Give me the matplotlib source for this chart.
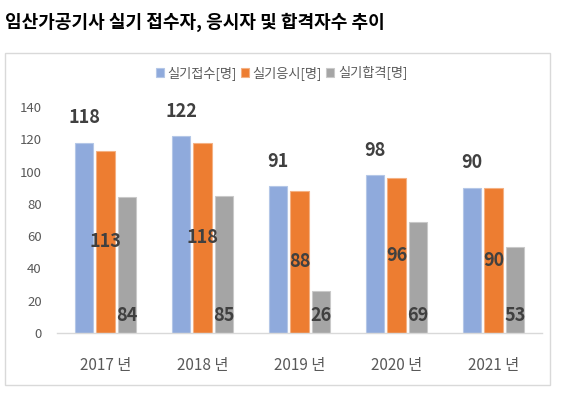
import numpy as np
import matplotlib
matplotlib.use("Agg")
import matplotlib.pyplot as plt
import matplotlib.patches as patches

plt.rcParams['font.family'] = ['Noto Sans CJK KR', 'DejaVu Sans']

# data
years = ['2017 년', '2018 년', '2019 년', '2020 년', '2021 년']
series_names = ['실기접수[명]', '실기응시[명]', '실기합격[명]']
applied = [118, 122, 91, 98, 90]
took = [113, 118, 88, 96, 90]
passed = [84, 85, 26, 69, 53]

colors = ['#8FAADC', '#ED7D31', '#A5A5A5']
edges = ['#B4C7E7', '#F4B183', '#C9C9C9']
label_color = '#404040'
text_gray = '#595959'

W, H = 563, 399
fig = plt.figure(figsize=(W / 100, H / 100), dpi=100)

# outer chart box
fig.patches.append(patches.Rectangle((5 / W, 1 - 385 / H), 545 / W, 332 / H,
                                     transform=fig.transFigure, fill=False,
                                     edgecolor='#D9D9D9', linewidth=1.0))

fig.text(5 / W, 1 - 22 / H, '임산가공기사 실기 접수자, 응시자 및 합격자수 추이',
         fontsize=13, fontweight='bold', ha='left', va='center', color='black')

ax = fig.add_axes([57 / W, 1 - 333 / H, 485 / W, 226 / H])
ax.set_xlim(-0.5, len(years) - 0.5)
ax.set_ylim(0, 140)

x = np.arange(len(years))
bw = 0.186
off = 0.22
for i, vals in enumerate([applied, took, passed]):
    ax.bar(x + (i - 1) * off, vals, width=bw, color=colors[i],
           edgecolor=edges[i], linewidth=0.8, label=series_names[i], zorder=2)

# data labels: outside end / center / inside base
for xi, v in zip(x, applied):
    ax.annotate(str(v), (xi - off, v), xytext=(0, 11), textcoords='offset points',
                ha='center', va='bottom', fontsize=13, fontweight='bold',
                color=label_color, annotation_clip=False)
for xi, v in zip(x, took):
    ax.text(xi, v / 2, str(v), ha='center', va='center', fontsize=13,
            fontweight='bold', color=label_color)
for xi, v in zip(x, passed):
    ax.annotate(str(v), (xi + off, 0), xytext=(0, 6), textcoords='offset points',
                ha='center', va='bottom', fontsize=13, fontweight='bold',
                color=label_color)

for s in ['top', 'right', 'left']:
    ax.spines[s].set_visible(False)
ax.spines['bottom'].set_color('#D9D9D9')
ax.spines['bottom'].set_linewidth(1.0)
ax.set_yticks(np.arange(0, 141, 20))
ax.tick_params(axis='y', length=0, pad=11, labelsize=9.5, labelcolor=text_gray)
ax.set_xticks(x)
ax.set_xticklabels(years)
ax.tick_params(axis='x', length=0, pad=17, labelsize=11, labelcolor=text_gray)

fig.legend(loc='center', bbox_to_anchor=(0.5, 1 - 73 / H), ncol=3, frameon=False,
           fontsize=9.5, handlelength=0.6, handleheight=0.6, handletextpad=0.3,
           columnspacing=0.3, labelcolor=text_gray, borderpad=0)

fig.savefig('out.png', dpi=100)
